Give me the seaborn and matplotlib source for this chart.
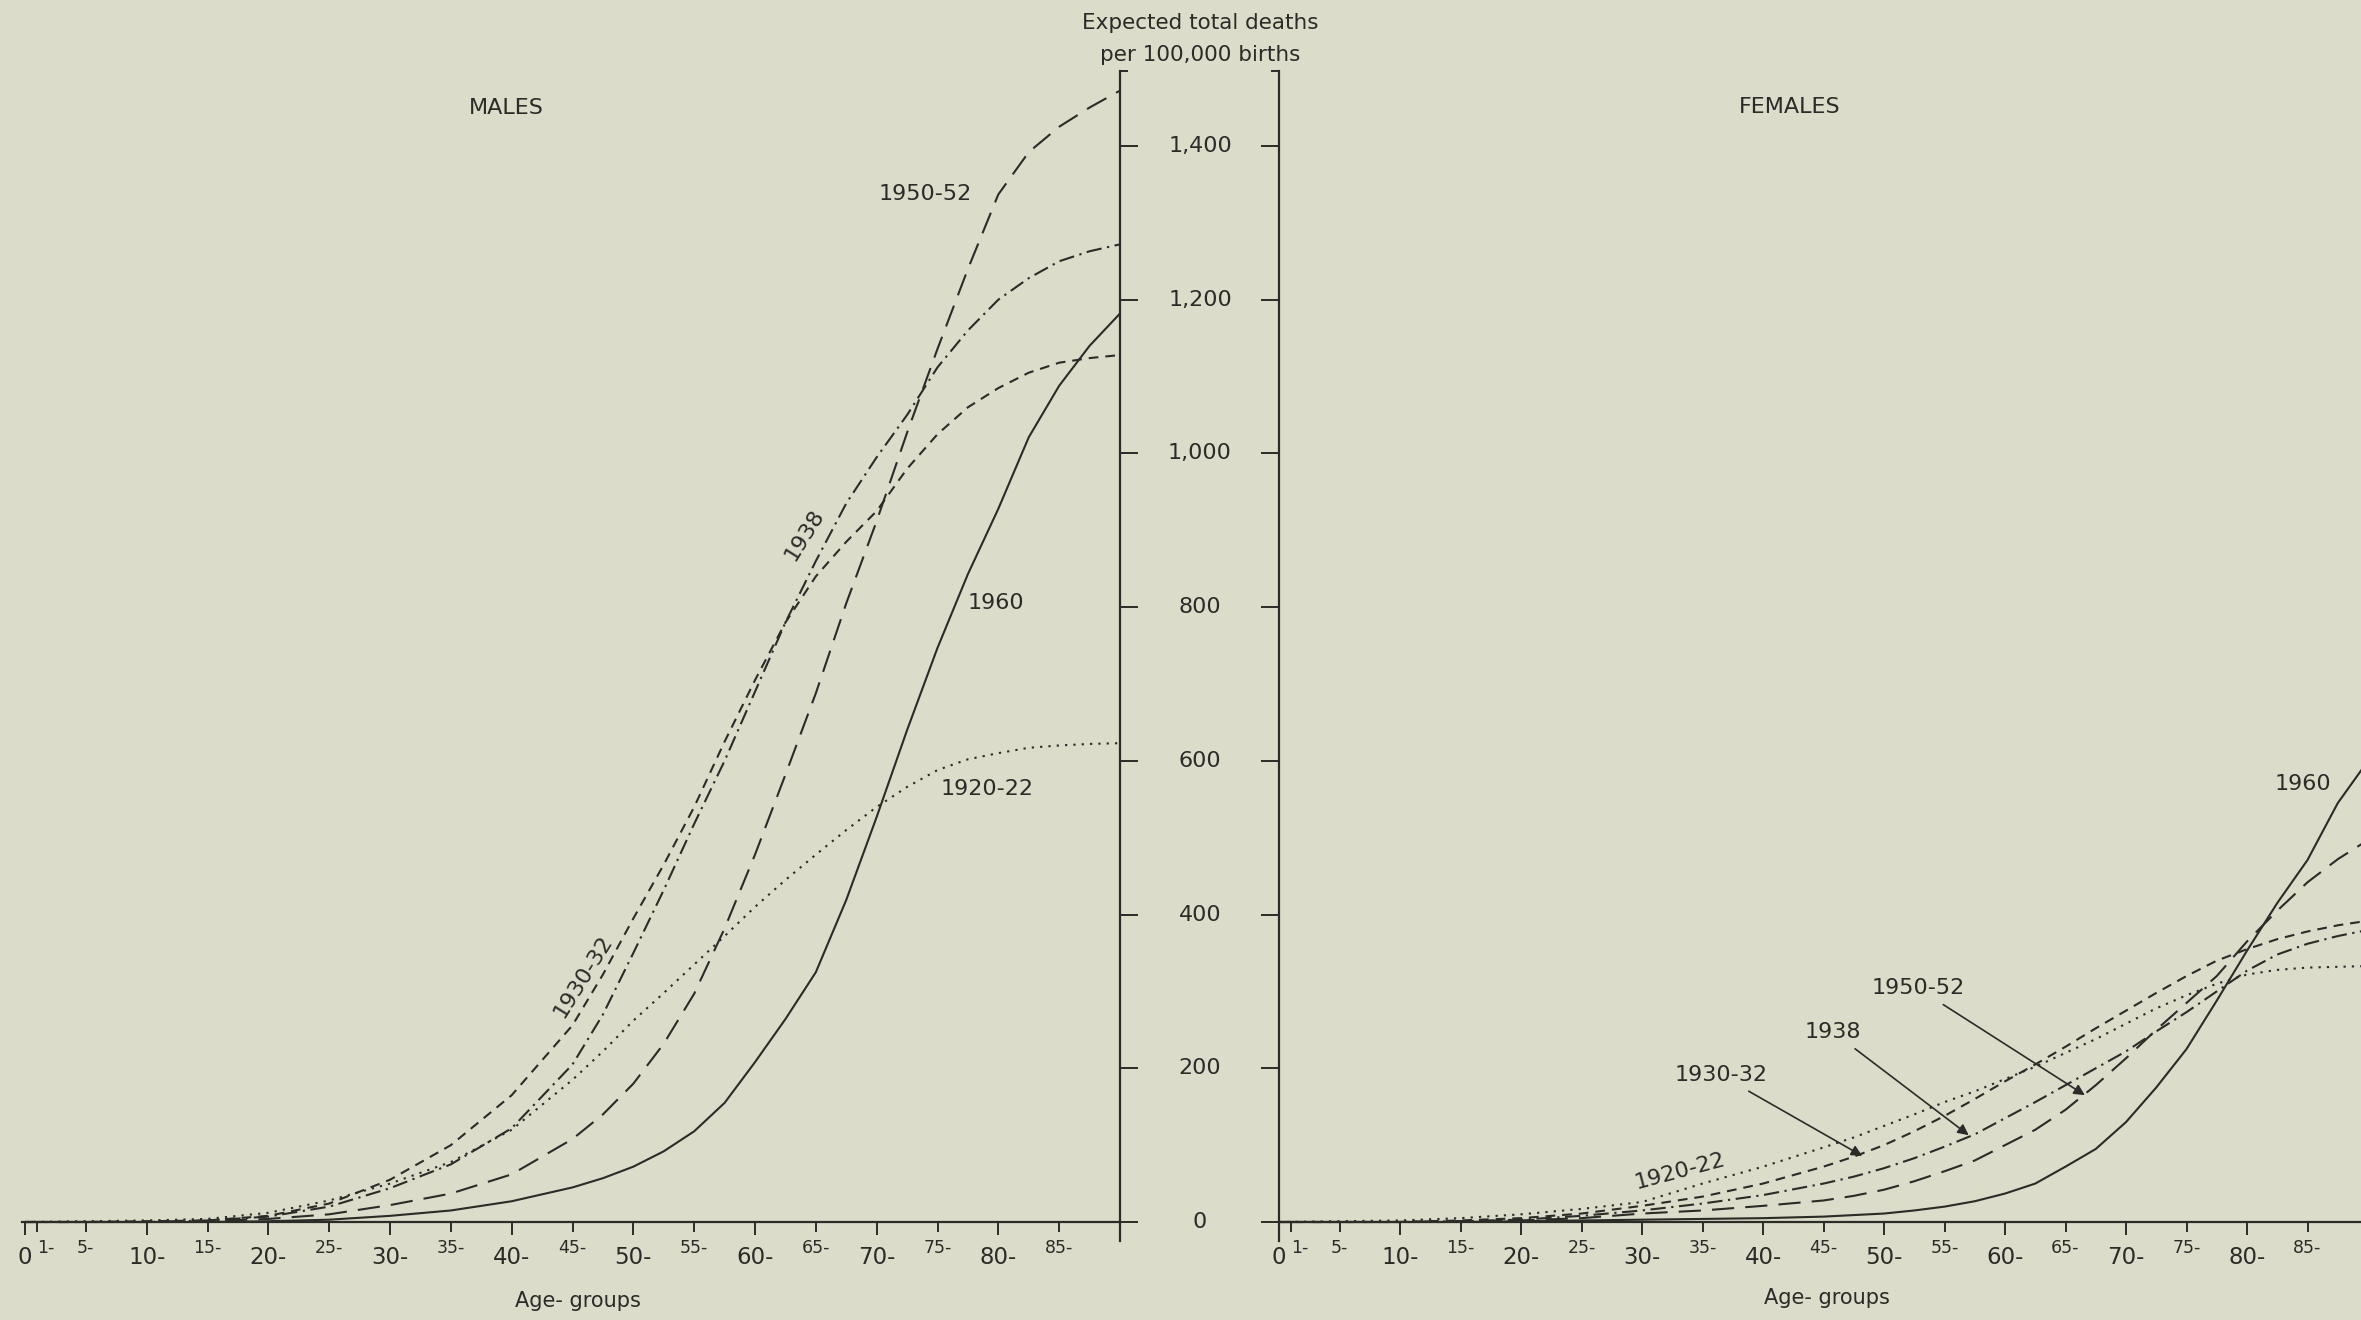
import pandas as pd
import matplotlib
matplotlib.use("Agg")
import matplotlib.pyplot as plt
import seaborn as sns

sns.set_theme(style="white")
plt.rcParams["font.family"] = ["DejaVu Sans"]
plt.rcParams["lines.scale_dashes"] = False

PAPER = "#dcdccb"
INK = "#2b2b27"

AGES = [0, 5, 10, 15, 20, 25, 30, 35, 40, 45, 47.5, 50, 52.5, 55, 57.5, 60, 62.5,
        65, 67.5, 70, 72.5, 75, 77.5, 80, 82.5, 85, 87.5, 90]

PERIODS = ["1920-22", "1930-32", "1938", "1950-52", "1960"]

# expected total deaths per 100,000 births, males
M_1920_22 = [0, 1, 2, 4, 12, 28, 50, 78, 120, 185, 222, 262, 298, 335, 372, 410, 445,
             478, 510, 540, 566, 588, 602, 610, 617, 620, 622, 623]
M_1930_32 = [0, 0, 1, 2, 8, 24, 55, 100, 165, 256, 322, 395, 465, 540, 625, 705, 780,
             840, 885, 925, 980, 1025, 1060, 1085, 1105, 1118, 1124, 1128]
M_1938 = [0, 0, 0, 2, 7, 20, 44, 75, 122, 205, 270, 350, 432, 518, 600, 690, 780,
          860, 935, 995, 1050, 1112, 1160, 1200, 1228, 1250, 1263, 1272]
M_1950_52 = [0, 0, 0, 1, 4, 10, 22, 37, 62, 108, 140, 180, 232, 297, 382, 478, 582,
             688, 805, 912, 1027, 1136, 1240, 1337, 1392, 1425, 1450, 1472]
M_1960 = [0, 0, 0, 0, 1, 3, 8, 15, 27, 45, 57, 72, 92, 118, 155, 208, 264,
          325, 419, 527, 640, 747, 843, 928, 1021, 1088, 1140, 1182]

# females
F_1920_22 = [0, 1, 2, 5, 10, 17, 26, 50, 72, 97, 110, 125, 140, 156, 170, 186, 202,
             220, 238, 258, 278, 295, 310, 322, 328, 331, 332, 333]
F_1930_32 = [0, 0, 0, 2, 5, 11, 21, 33, 50, 72, 85, 100, 118, 138, 160, 183, 205,
             228, 252, 275, 298, 320, 340, 355, 368, 378, 386, 392]
F_1938 = [0, 0, 0, 1, 3, 8, 15, 24, 35, 50, 59, 70, 83, 98, 114, 135, 156,
          178, 200, 222, 248, 273, 300, 327, 348, 362, 372, 380]
F_1950_52 = [0, 0, 0, 1, 2, 5, 11, 15, 21, 28, 34, 42, 53, 66, 80, 100, 120,
             146, 178, 213, 250, 285, 320, 365, 405, 442, 472, 497]
F_1960 = [0, 0, 0, 0, 1, 2, 3, 4, 5, 7, 9, 11, 15, 20, 27, 37, 50,
          72, 95, 130, 175, 225, 288, 353, 415, 471, 545, 600]

Y_TICKS = [0, 200, 400, 600, 800, 1000, 1200, 1400]
Y_TICK_LABELS = ["0", "200", "400", "600", "800", "1,000", "1,200", "1,400"]
X_MAJOR = [0, 10, 20, 30, 40, 50, 60, 70, 80]
X_MAJOR_LABELS = ["0", "10-", "20-", "30-", "40-", "50-", "60-", "70-", "80-"]
X_MINOR = [1, 5, 15, 25, 35, 45, 55, 65, 75, 85]
X_MINOR_LABELS = ["1-", "5-", "15-", "25-", "35-", "45-", "55-", "65-", "75-", "85-"]

DASHES = {
    "1920-22": (1.6, 4.4),
    "1930-32": (7, 5),
    "1938": (11, 4, 1.6, 4),
    "1950-52": (16, 8),
    "1960": "",
}


def long_frame(series):
    rows = []
    for period, values in zip(PERIODS, series):
        for age, v in zip(AGES, values):
            rows.append({"age": age, "deaths": v, "period": period})
    return pd.DataFrame(rows)


W, H = 2361, 1320
ZERO_Y, TOP_Y, PX_PER_UNIT = 1222, 71, 0.7686
Y_TOP = (ZERO_Y - TOP_Y) / PX_PER_UNIT
Y_BOT = -25


def make_axes(fig, x0, x1):
    bottom_px = ZERO_Y - Y_BOT * PX_PER_UNIT
    return fig.add_axes([x0 / W, 1 - bottom_px / H, (x1 - x0) / W,
                         (bottom_px - TOP_Y) / H])


def style_axes(ax, side):
    ax.set_facecolor("none")
    ax.set_ylim(Y_BOT, Y_TOP)
    for s in ["top", "left", "right", "bottom"]:
        ax.spines[s].set_visible(False)
    ax.spines["bottom"].set_visible(True)
    ax.spines["bottom"].set_position(("data", 0))
    ax.spines[side].set_visible(True)
    for s in ["bottom", side]:
        ax.spines[s].set_color(INK)
        ax.spines[s].set_linewidth(1.6)

    ax.set_xticks(X_MAJOR)
    ax.set_xticklabels(X_MAJOR_LABELS)
    ax.set_xticks(X_MINOR, minor=True)
    ax.set_xticklabels(X_MINOR_LABELS, minor=True)
    ax.tick_params(axis="x", which="major", direction="out", length=9.5, width=1.4,
                   pad=8, labelsize=16.5, colors=INK, bottom=True)
    ax.tick_params(axis="x", which="minor", direction="out", length=7, width=1.4,
                   pad=5, labelsize=12.5, colors=INK, bottom=True)
    ax.get_xminorticklabels()[0].set_ha("left")

    if side == "right":
        ax.yaxis.tick_right()
    else:
        ax.yaxis.tick_left()
    ax.set_yticks(Y_TICKS)
    ax.set_yticklabels([])
    ax.set_yticks([Y_TOP - 0.5], minor=True)
    ax.tick_params(axis="y", which="major", direction="out", length=13, width=1.4,
                   colors=INK, left=(side == "left"), right=(side == "right"))
    ax.tick_params(axis="y", which="minor", direction="out", length=6, width=1.4,
                   colors=INK, left=(side == "left"), right=(side == "right"))
    ax.set_xlabel("")
    ax.set_ylabel("")


fig = plt.figure(figsize=(W / 100, H / 100), dpi=100, facecolor=PAPER)

ax_m = make_axes(fig, 22, 1120)
ax_f = make_axes(fig, 1279, 2368)

male_df = long_frame([M_1920_22, M_1930_32, M_1938, M_1950_52, M_1960])
female_df = long_frame([F_1920_22, F_1930_32, F_1938, F_1950_52, F_1960])

for ax, df in [(ax_m, male_df), (ax_f, female_df)]:
    sns.lineplot(data=df, x="age", y="deaths", style="period", dashes=DASHES,
                 color=INK, linewidth=1.5, estimator=None, sort=False,
                 legend=False, ax=ax)

ax_m.set_xlim(-0.25, 90)
ax_f.set_xlim(0, 90)
style_axes(ax_m, "right")
style_axes(ax_f, "left")

# value labels in the band between the panels
band_x = (1200 - 22) / (1120 - 22)
for v, lab in zip(Y_TICKS, Y_TICK_LABELS):
    ax_m.text(band_x, v, lab, transform=ax_m.get_yaxis_transform(), ha="center",
              va="center", fontsize=16, color=INK, clip_on=False)

fig.text(1200 / W, 1 - 23 / H, "Expected total deaths", ha="center", va="center",
         fontsize=15.5, color=INK)
fig.text(1200 / W, 1 - 55 / H, "per 100,000 births", ha="center", va="center",
         fontsize=15.5, color=INK)

fig.text(506 / W, 1 - 108 / H, "MALES", ha="center", va="center", fontsize=16, color=INK)
fig.text(1790 / W, 1 - 107 / H, "FEMALES", ha="center", va="center", fontsize=16, color=INK)
fig.text(578 / W, 1 - 1301 / H, "Age- groups", ha="center", va="center", fontsize=15, color=INK)
fig.text(1827 / W, 1 - 1298 / H, "Age- groups", ha="center", va="center", fontsize=15, color=INK)

# curve labels, males
lab_kw = dict(ha="center", va="center", fontsize=16, color=INK)
ax_m.text(74.0, 1337, "1950-52", **lab_kw)
ax_m.text(64.1, 894, "1938", rotation=58, **lab_kw)
ax_m.text(79.8, 805, "1960", **lab_kw)
ax_m.text(79.1, 563, "1920-22", **lab_kw)
ax_m.text(45.9, 320, "1930-32", rotation=58, **lab_kw)

# curve labels, females
ax_f.text(84.6, 570, "1960", **lab_kw)
ax_f.text(33.1, 66, "1920-22", rotation=15, **lab_kw)
arrow = dict(arrowstyle="-|>", color=INK, lw=1.2, mutation_scale=16,
             shrinkA=4, shrinkB=0)
ax_f.annotate("1950-52", xy=(66.6, 165), xytext=(52.8, 304), arrowprops=arrow, **lab_kw)
ax_f.annotate("1938", xy=(57.0, 113), xytext=(45.8, 247), arrowprops=arrow, **lab_kw)
ax_f.annotate("1930-32", xy=(48.2, 86), xytext=(36.5, 191), arrowprops=arrow, **lab_kw)

fig.savefig("out.png", dpi=100, facecolor=PAPER)
